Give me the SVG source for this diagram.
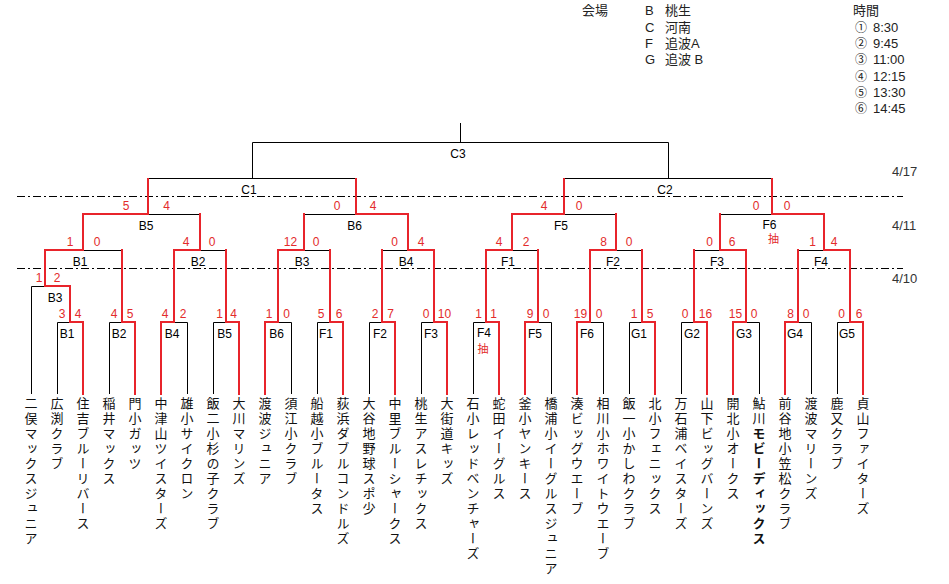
<svg xmlns="http://www.w3.org/2000/svg" width="949" height="584" viewBox="0 0 949 584">
<style>
.bg{fill:#fff}
.k{stroke:#000;stroke-width:1;fill:none}
.r{stroke:#e8242b;stroke-width:2;fill:none;stroke-linejoin:miter;stroke-linecap:square}
.dd{stroke:#000;stroke-width:1;stroke-dasharray:8 3 2 3;fill:none}
.lb{font-family:"Liberation Sans","Noto Sans CJK JP",sans-serif;font-size:12px;fill:#000;text-anchor:middle}
.sc{font-family:"Liberation Sans",sans-serif;font-size:12px;fill:#e32b2b;text-anchor:middle}
.ch{font-family:"Noto Sans CJK JP",sans-serif;font-size:11px;fill:#e32b2b;text-anchor:middle}
.tm{font-family:"Noto Sans CJK JP",sans-serif;font-size:13px;fill:#111;writing-mode:vertical-rl;letter-spacing:2px}
.lg{font-family:"Liberation Sans","Noto Sans CJK JP",sans-serif;font-size:13px;fill:#222}
.cn{font-family:"Noto Sans CJK JP",sans-serif;font-size:12px;fill:#222}
.dt{font-family:"Liberation Sans",sans-serif;font-size:13px;fill:#333}
</style>
<rect class="bg" x="0" y="0" width="949" height="584"/>

<g id="legend">
<text class="lg" x="582" y="15">会場</text>
<text class="lg" x="645" y="15">B</text><text class="lg" x="665" y="15">桃生</text>
<text class="lg" x="645" y="32">C</text><text class="lg" x="665" y="32">河南</text>
<text class="lg" x="645" y="48">F</text><text class="lg" x="665" y="48">追波A</text>
<text class="lg" x="645" y="64">G</text><text class="lg" x="665" y="64">追波 B</text>
<text class="lg" x="853" y="15">時間</text>
<text class="cn" x="855" y="32">①</text><text class="lg" x="873" y="32">8:30</text>
<text class="cn" x="855" y="48">②</text><text class="lg" x="873" y="48">9:45</text>
<text class="cn" x="855" y="64">③</text><text class="lg" x="873" y="64">11:00</text>
<text class="cn" x="855" y="81">④</text><text class="lg" x="873" y="81">12:15</text>
<text class="cn" x="855" y="97">⑤</text><text class="lg" x="873" y="97">13:30</text>
<text class="cn" x="855" y="113">⑥</text><text class="lg" x="873" y="113">14:45</text>
</g>

<g id="dates">
<line class="dd" x1="17" y1="196.5" x2="903" y2="196.5"/>
<line class="dd" x1="17" y1="268.5" x2="903" y2="268.5"/>
<text class="dt" x="892" y="176">4/17</text>
<text class="dt" x="892" y="230">4/11</text>
<text class="dt" x="892" y="283">4/10</text>
</g>

<g id="connectors">
<g id="black-lines">
<path class="k" d="M31.5 394V286.5H45 M57.5 394V322.5H70 M109.5 394V322.5H122 M187.5 394V322.5H174 M213.5 394V322.5H226 M291.5 394V322.5H278 M317.5 394V322.5H330 M369.5 394V322.5H382 M421.5 394V322.5H434 M473.5 394V322.5H486 M551.5 394V322.5H538 M603.5 394V322.5H590 M629.5 394V322.5H642 M681.5 394V322.5H694 M759.5 394V322.5H746 M811.5 394V322.5H798 M837.5 394V322.5H850"/>
<path class="k" d="M83 250.5H122 M200 250.5H226 M304 250.5H330 M382 250.5H408 M512 250.5H538 M616 250.5H642 M694 250.5H720 M798 250.5H824"/>
<path class="k" d="M148 214.5H200 M304 214.5H356 M564 214.5H616 M720 214.5H772"/>
<path class="k" d="M148 178.5H356 M252.5 178.5V142.5 M564 178.5H772 M668.5 178.5V142.5 M252.5 142.5H668.5 M460.5 142.5V123"/>
</g>
<g id="red-lines">
<polyline class="r" points="83,394 83,322 70,322 70,286 45,286 45,250 83,250 83,214 148,214 148,179"/>
<polyline class="r" points="135,394 135,322 122,322 122,250"/>
<polyline class="r" points="161,394 161,322 174,322 174,250 200,250 200,214"/>
<polyline class="r" points="239,394 239,322 226,322 226,250"/>
<polyline class="r" points="265,394 265,322 278,322 278,250 304,250 304,214"/>
<polyline class="r" points="343,394 343,322 330,322 330,250"/>
<polyline class="r" points="395,394 395,322 382,322 382,250"/>
<polyline class="r" points="447,394 447,322 434,322 434,250 408,250 408,214 356,214 356,179"/>
<polyline class="r" points="499,394 499,322 486,322 486,250 512,250 512,214 564,214 564,179"/>
<polyline class="r" points="525,394 525,322 538,322 538,250"/>
<polyline class="r" points="577,394 577,322 590,322 590,250 616,250 616,214"/>
<polyline class="r" points="655,394 655,322 642,322 642,250"/>
<polyline class="r" points="707,394 707,322 694,322 694,250"/>
<polyline class="r" points="733,394 733,322 746,322 746,250 720,250 720,214"/>
<polyline class="r" points="785,394 785,322 798,322 798,250"/>
<polyline class="r" points="863,394 863,322 850,322 850,250 824,250 824,214 772,214 772,179"/>
</g>
</g>

<g id="m-C3"><text class="lb" x="458" y="158">C3</text></g>
<g id="m-C1"><text class="lb" x="249" y="194">C1</text></g>
<g id="m-C2"><text class="lb" x="665" y="194">C2</text></g>

<g id="m-B5-r3"><text class="lb" x="146" y="230">B5</text><text class="sc" x="126" y="210">5</text><text class="sc" x="166.5" y="210">4</text></g>
<g id="m-B6-r3"><text class="lb" x="354.5" y="230">B6</text><text class="sc" x="337" y="210">0</text><text class="sc" x="373" y="210">4</text></g>
<g id="m-F5-r3"><text class="lb" x="561" y="230">F5</text><text class="sc" x="544" y="210">4</text><text class="sc" x="579" y="210">0</text></g>
<g id="m-F6-r3"><text class="lb" x="769.5" y="229">F6</text><text class="ch" x="773.5" y="243">抽</text><text class="sc" x="756" y="210">0</text><text class="sc" x="787" y="210">0</text></g>

<g id="m-B1-r2"><text class="lb" x="80" y="266">B1</text><text class="sc" x="70" y="246">1</text><text class="sc" x="97" y="246">0</text></g>
<g id="m-B2-r2"><text class="lb" x="198" y="266">B2</text><text class="sc" x="186" y="246">4</text><text class="sc" x="212" y="246">0</text></g>
<g id="m-B3-r2"><text class="lb" x="302" y="266">B3</text><text class="sc" x="290.5" y="246">12</text><text class="sc" x="316" y="246">0</text></g>
<g id="m-B4-r2"><text class="lb" x="406" y="266">B4</text><text class="sc" x="394.5" y="246">0</text><text class="sc" x="421" y="246">4</text></g>
<g id="m-F1-r2"><text class="lb" x="508" y="266">F1</text><text class="sc" x="499" y="246">4</text><text class="sc" x="526" y="246">2</text></g>
<g id="m-F2-r2"><text class="lb" x="613" y="266">F2</text><text class="sc" x="603.5" y="246">8</text><text class="sc" x="629" y="246">0</text></g>
<g id="m-F3-r2"><text class="lb" x="717" y="266">F3</text><text class="sc" x="709.5" y="246">0</text><text class="sc" x="732" y="246">6</text></g>
<g id="m-F4-r2"><text class="lb" x="821" y="266">F4</text><text class="sc" x="812.5" y="246">1</text><text class="sc" x="834" y="246">4</text></g>

<g id="m-B3-r1"><text class="lb" x="55" y="302">B3</text><text class="sc" x="39" y="282">1</text><text class="sc" x="57" y="282">2</text></g>

<g id="m-B1"><text class="lb" x="67" y="338">B1</text><text class="sc" x="62" y="318">3</text><text class="sc" x="78" y="318">4</text></g>
<g id="m-B2"><text class="lb" x="119" y="338">B2</text><text class="sc" x="114" y="318">4</text><text class="sc" x="130" y="318">5</text></g>
<g id="m-B4"><text class="lb" x="172" y="338">B4</text><text class="sc" x="165" y="318">4</text><text class="sc" x="183" y="318">2</text></g>
<g id="m-B5"><text class="lb" x="224.5" y="338">B5</text><text class="sc" x="219.5" y="318">1</text><text class="sc" x="233.5" y="318">4</text></g>
<g id="m-B6"><text class="lb" x="276.5" y="338">B6</text><text class="sc" x="269" y="318">1</text><text class="sc" x="286.5" y="318">0</text></g>
<g id="m-F1"><text class="lb" x="326" y="338">F1</text><text class="sc" x="321" y="318">5</text><text class="sc" x="339" y="318">6</text></g>
<g id="m-F2"><text class="lb" x="380" y="338">F2</text><text class="sc" x="375" y="318">2</text><text class="sc" x="390.5" y="318">7</text></g>
<g id="m-F3"><text class="lb" x="431" y="338">F3</text><text class="sc" x="426" y="318">0</text><text class="sc" x="444.5" y="318">10</text></g>
<g id="m-F4"><text class="lb" x="484" y="337">F4</text><text class="ch" x="483" y="353">抽</text><text class="sc" x="478.5" y="318">1</text><text class="sc" x="493.5" y="318">1</text></g>
<g id="m-F5"><text class="lb" x="535" y="338">F5</text><text class="sc" x="530" y="318">9</text><text class="sc" x="546" y="318">0</text></g>
<g id="m-F6"><text class="lb" x="587" y="338">F6</text><text class="sc" x="580.5" y="318">19</text><text class="sc" x="599" y="318">0</text></g>
<g id="m-G1"><text class="lb" x="639" y="338">G1</text><text class="sc" x="634" y="318">1</text><text class="sc" x="650" y="318">5</text></g>
<g id="m-G2"><text class="lb" x="692" y="338">G2</text><text class="sc" x="685" y="318">0</text><text class="sc" x="705.5" y="318">16</text></g>
<g id="m-G3"><text class="lb" x="744" y="338">G3</text><text class="sc" x="735.5" y="318">15</text><text class="sc" x="754" y="318">0</text></g>
<g id="m-G4"><text class="lb" x="795" y="338">G4</text><text class="sc" x="790.5" y="318">8</text><text class="sc" x="806" y="318">0</text></g>
<g id="m-G5"><text class="lb" x="847" y="338">G5</text><text class="sc" x="841.5" y="318">0</text><text class="sc" x="859" y="318">6</text></g>

<g id="teams">
<g id="t00"><text class="tm" x="31" y="397">二俣マックスジュニア</text></g>
<g id="t01"><text class="tm" x="57" y="397">広渕クラブ</text></g>
<g id="t02"><text class="tm" x="83" y="397">住吉ブルーリバース</text></g>
<g id="t03"><text class="tm" x="109" y="397">稲井マックス</text></g>
<g id="t04"><text class="tm" x="135" y="397">門小ガッツ</text></g>
<g id="t05"><text class="tm" x="161" y="397">中津山ツイスターズ</text></g>
<g id="t06"><text class="tm" x="187" y="397">雄小サイクロン</text></g>
<g id="t07"><text class="tm" x="213" y="397">飯二小杉の子クラブ</text></g>
<g id="t08"><text class="tm" x="239" y="397">大川マリンズ</text></g>
<g id="t09"><text class="tm" x="265" y="397">渡波ジュニア</text></g>
<g id="t10"><text class="tm" x="291" y="397">須江小クラブ</text></g>
<g id="t11"><text class="tm" x="317" y="397">船越小ブルータス</text></g>
<g id="t12"><text class="tm" x="343" y="397">荻浜ダブルコンドルズ</text></g>
<g id="t13"><text class="tm" x="369" y="397">大谷地野球スポ少</text></g>
<g id="t14"><text class="tm" x="395" y="397">中里ブルーシャークス</text></g>
<g id="t15"><text class="tm" x="421" y="397">桃生アスレチックス</text></g>
<g id="t16"><text class="tm" x="447" y="397">大街道キッズ</text></g>
<g id="t17"><text class="tm" x="473" y="397">石小レッドベンチャーズ</text></g>
<g id="t18"><text class="tm" x="499" y="397">蛇田イーグルス</text></g>
<g id="t19"><text class="tm" x="525" y="397">釜小ヤンキース</text></g>
<g id="t20"><text class="tm" x="551" y="397">橋浦小イーグルスジュニア</text></g>
<g id="t21"><text class="tm" x="577" y="397">湊ビッグウエーブ</text></g>
<g id="t22"><text class="tm" x="603" y="397">相川小ホワイトウエーブ</text></g>
<g id="t23"><text class="tm" x="629" y="397">飯一小かしわクラブ</text></g>
<g id="t24"><text class="tm" x="655" y="397">北小フェニックス</text></g>
<g id="t25"><text class="tm" x="681" y="397">万石浦ベイスターズ</text></g>
<g id="t26"><text class="tm" x="707" y="397">山下ビッグバーンズ</text></g>
<g id="t27"><text class="tm" x="733" y="397">開北小オークス</text></g>
<g id="t28"><text class="tm" x="759" y="397">鮎川<tspan font-weight="bold">モビーディックス</tspan></text></g>
<g id="t29"><text class="tm" x="785" y="397">前谷地小笠松クラブ</text></g>
<g id="t30"><text class="tm" x="811" y="397">渡波マリーンズ</text></g>
<g id="t31"><text class="tm" x="837" y="397">鹿又クラブ</text></g>
<g id="t32"><text class="tm" x="863" y="397">貞山ファイターズ</text></g>
</g>
</svg>
